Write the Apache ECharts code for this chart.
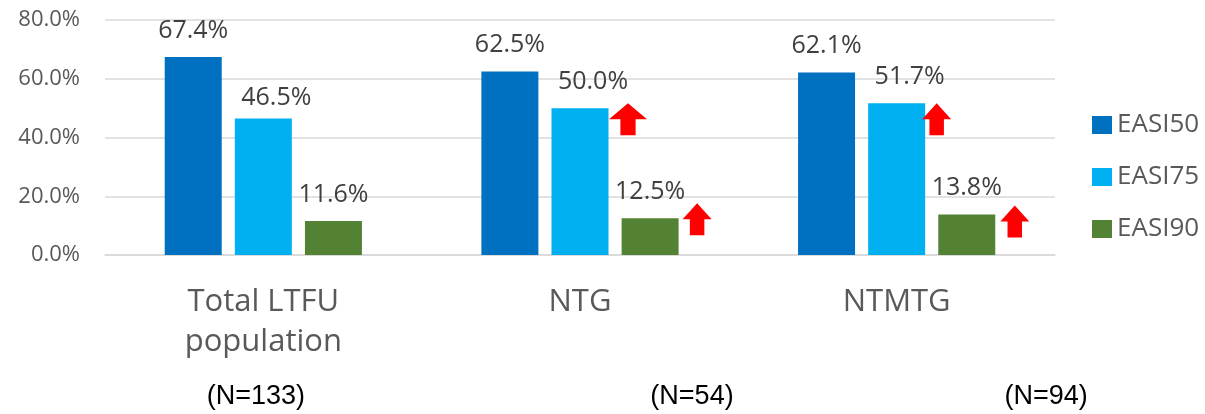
<!DOCTYPE html>
<html>
<head>
<meta charset="utf-8">
<script src="https://cdn.jsdelivr.net/npm/echarts@6/dist/echarts.min.js"></script>
<style>
html,body{margin:0;padding:0;background:#fff;}
#chart{width:1205px;height:414px;}
</style>
</head>
<body>
<div id="chart"></div>
<script>
// ---- data ----
var categories = ['Total LTFU\npopulation', 'NTG', 'NTMTG'];
var seriesNames = ['EASI50', 'EASI75', 'EASI90'];
var easi50 = [67.4, 62.5, 62.1];
var easi75 = [46.5, 50.0, 51.7];
var easi90 = [11.6, 12.5, 13.8];
var nLabels = ['(N=133)', '(N=54)', '(N=94)'];
var yTicks = [0, 20, 40, 60, 80];
// arrows: [seriesIndex, categoryIndex]
var arrows = [[1, 1], [2, 1], [1, 2], [2, 2]];

// ---- styling ----
var colors = ['#0070C0', '#00B0F0', '#548235'];
var arrowStyle = [
  {size: [38, 32], offset: [48, 11], path: 'path://M50,0 L100,50 L70,50 L70,100 L30,100 L30,50 L0,50 Z'},
  {size: [29, 32], offset: [47, 1], path: 'path://M50,0 L100,50 L75,50 L75,100 L25,100 L25,50 L0,50 Z'},
  {size: [29, 32], offset: [40, 16], path: 'path://M50,0 L100,50 L75,50 L75,100 L25,100 L25,50 L0,50 Z'},
  {size: [29, 32], offset: [48, 7], path: 'path://M50,0 L100,50 L75,50 L75,100 L25,100 L25,50 L0,50 Z'}
];
var nOffsets = [-7.5, 112, 149.5];
var FONT = '"Open Sans", "Noto Sans", sans-serif';

var allData = [easi50, easi75, easi90];

var chart = echarts.init(document.getElementById('chart'), null, {renderer: 'canvas'});

var series = seriesNames.map(function (name, si) {
  var data = allData[si].map(function (v, ci) {
    if (si === 1 && ci === 0) {
      return {value: v, label: {offset: [13, 6]}};
    }
    return v;
  });
  var mp = [];
  arrows.forEach(function (a, k) {
    if (a[0] === si) {
      mp.push({
        coord: [a[1], allData[si][a[1]]],
        symbol: arrowStyle[k].path,
        symbolSize: arrowStyle[k].size,
        symbolOffset: arrowStyle[k].offset,
        symbolKeepAspect: false
      });
    }
  });
  var s = {
    name: name,
    type: 'bar',
    data: data,
    barWidth: 57,
    barGap: '23%',
    itemStyle: {color: colors[si]},
    label: {
      show: true,
      position: 'top',
      distance: 14,
      offset: si === 1 ? [13, 0] : [0, 0],
      formatter: function (p) { return p.value.toFixed(1) + '%'; },
      fontFamily: FONT,
      fontSize: 25,
      color: '#404040'
    },
    emphasis: {disabled: true},
    animation: false
  };
  if (mp.length) {
    s.markPoint = {
      data: mp,
      itemStyle: {color: '#FF0000'},
      label: {show: false},
      silent: true,
      animation: false
    };
  }
  return s;
});

var option = {
  animation: false,
  backgroundColor: '#ffffff',
  grid: {left: 105, right: 150, top: 20, bottom: 159, containLabel: false},
  legend: {
    orient: 'vertical',
    left: 1087,
    top: 107,
    itemWidth: 20,
    itemHeight: 18,
    itemGap: 26,
    icon: 'rect',
    data: seriesNames,
    textStyle: {fontFamily: FONT, fontSize: 26, color: '#595959', lineHeight: 26, padding: [0, 0, 0, 0]},
    selectedMode: false
  },
  xAxis: {
    type: 'category',
    data: categories,
    axisLine: {show: true, lineStyle: {color: '#D9D9D9', width: 1.5}},
    axisTick: {show: false},
    axisLabel: {
      fontFamily: FONT,
      fontSize: 31,
      lineHeight: 40,
      color: '#595959',
      margin: 27,
      interval: 0
    }
  },
  yAxis: {
    type: 'value',
    min: yTicks[0],
    max: yTicks[yTicks.length - 1],
    interval: yTicks[1] - yTicks[0],
    axisLine: {show: false},
    axisTick: {show: false},
    splitLine: {lineStyle: {color: '#D9D9D9', width: 1.5}},
    axisLabel: {
      fontFamily: FONT,
      fontSize: 22,
      color: '#595959',
      margin: 25,
      formatter: function (v) { return v.toFixed(1) + '%'; }
    }
  },
  series: series
};

chart.setOption(option);

var graphics = nLabels.map(function (t, i) {
  var x = chart.convertToPixel({xAxisIndex: 0}, categories[i]) + nOffsets[i];
  return {
    type: 'text',
    x: x,
    y: 397,
    style: {
      text: t,
      fontFamily: '"Liberation Sans", Arial, sans-serif',
      fontSize: 27,
      fill: '#000000',
      align: 'center',
      verticalAlign: 'middle'
    },
    silent: true
  };
});
chart.setOption({graphic: graphics});
</script>
</body>
</html>
